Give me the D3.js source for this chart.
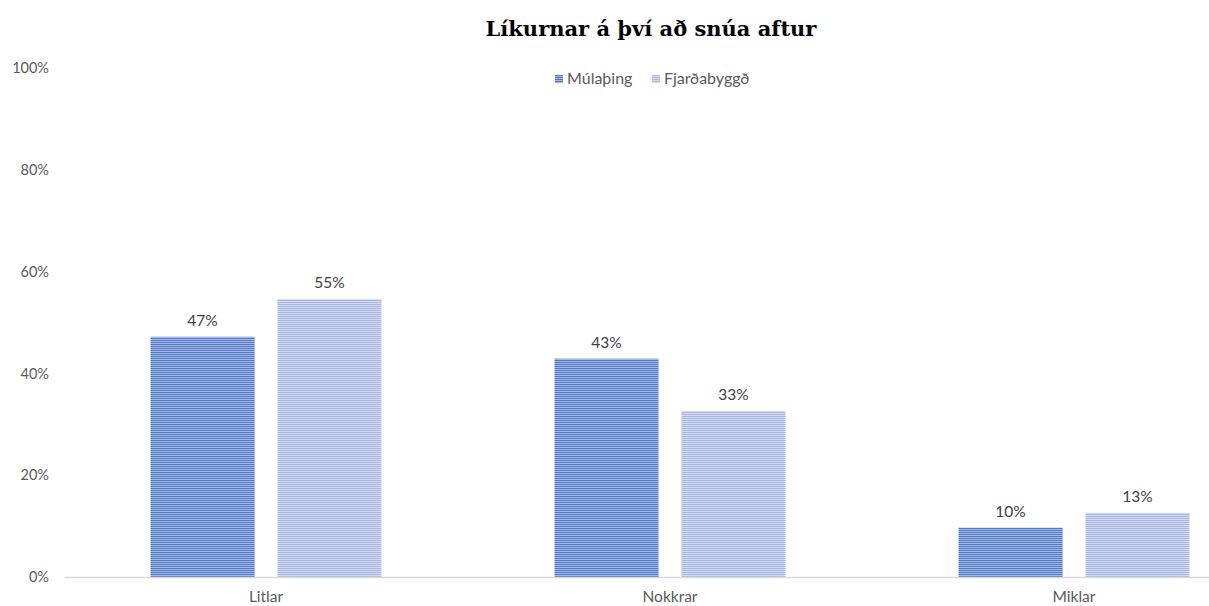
<!DOCTYPE html>
<html>
<head>
<meta charset="utf-8">
<style>
  body { margin: 0; background: #fff; }
  text { font-family: Lato, "Open Sans", sans-serif; }
</style>
</head>
<body>
<svg width="1209" height="606"></svg>
<script src="https://d3js.org/d3.v7.min.js"></script>
<script>
    var categories = ["Litlar", "Nokkrar", "Miklar"];
    var seriesNames = ["Múlaþing", "Fjarðabyggð"];
    var mulathing = [47.2, 42.9, 9.7];
    var fjardabyggd = [54.6, 32.6, 12.6];
    var yTicks = [0, 20, 40, 60, 80, 100];

    var rows = categories.map(function(c, i) {
        return { cat: c, values: [mulathing[i], fjardabyggd[i]] };
    });

    var svg = d3.select("svg"),
        width = +svg.attr("width"),
        height = +svg.attr("height");

    // stripe patterns like the excel fill
    var defs = svg.append("defs");
    var stripes = [
        { id: "s0", bg: "#a7b9e2", fg: "#4f79c7" },
        { id: "s1", bg: "#d2daf1", fg: "#a8b8e1" }
    ];
    stripes.forEach(function(s) {
        var p = defs.append("pattern")
            .attr("id", s.id)
            .attr("patternUnits", "userSpaceOnUse")
            .attr("width", 8)
            .attr("height", 2);
        p.append("rect").attr("width", 8).attr("height", 2).attr("fill", s.bg);
        p.append("rect").attr("width", 8).attr("height", 1).attr("fill", s.fg);
    });

    var x0 = d3.scaleBand()
        .domain(categories)
        .range([64, 1276]);

    var x1 = d3.scaleBand()
        .domain([0, 1])
        .range([86.5, 317.5])
        .paddingInner(0.18);

    var y = d3.scaleLinear()
        .domain([0, 100])
        .range([577, 68]);

    // title
    svg.append("text")
        .attr("x", 651)
        .attr("y", 36)
        .attr("text-anchor", "middle")
        .style("font-family", "'DejaVu Serif', serif")
        .style("font-size", "21px")
        .style("font-weight", "bold")
        .attr("fill", "#000")
        .text("Líkurnar á því að snúa aftur");

    // y axis labels
    var yAxis = svg.append("g")
        .attr("transform", "translate(49,0)")
        .call(d3.axisLeft(y).tickValues(yTicks).tickSize(0).tickPadding(0)
            .tickFormat(function(d) { return d + "%"; }));
    yAxis.select(".domain").remove();
    yAxis.selectAll("text")
        .attr("fill", "#595959")
        .style("font-size", "14.5px");

    // bars
    var groups = svg.append("g").selectAll("g")
        .data(rows)
        .enter().append("g")
        .attr("transform", function(d) { return "translate(" + x0(d.cat) + ",0)"; });

    groups.selectAll("rect")
        .data(function(d) { return d.values; })
        .enter().append("rect")
        .attr("x", function(d, i) { return x1(i); })
        .attr("y", function(d) { return y(d); })
        .attr("width", x1.bandwidth())
        .attr("height", function(d) { return y(0) - y(d); })
        .attr("fill", function(d, i) { return "url(#s" + i + ")"; });

    groups.selectAll(".lbl")
        .data(function(d) { return d.values; })
        .enter().append("text")
        .attr("class", "lbl")
        .attr("x", function(d, i) { return x1(i) + x1.bandwidth() / 2; })
        .attr("y", function(d) { return y(d) - 11; })
        .attr("text-anchor", "middle")
        .attr("fill", "#404040")
        .style("font-size", "15.5px")
        .text(function(d) { return Math.round(d) + "%"; });

    // x axis
    var xAxis = svg.append("g")
        .attr("transform", "translate(0,577)")
        .call(d3.axisBottom(x0).tickSize(0).tickPadding(14));
    xAxis.select(".domain")
        .attr("stroke", "#d9d9d9")
        .attr("stroke-width", 1.5);
    xAxis.selectAll("text")
        .attr("fill", "#595959")
        .style("font-size", "15.5px");

    // legend
    var legendX = [555, 652];
    var legend = svg.append("g").selectAll("g")
        .data(seriesNames)
        .enter().append("g")
        .attr("transform", function(d, i) { return "translate(" + legendX[i] + ",75)"; });
    legend.append("rect")
        .attr("width", 8)
        .attr("height", 8)
        .attr("fill", function(d, i) { return "url(#s" + i + ")"; });
    legend.append("text")
        .attr("x", 12)
        .attr("y", 9)
        .attr("fill", "#595959")
        .style("font-size", "16px")
        .text(function(d) { return d; });
</script>
</body>
</html>
